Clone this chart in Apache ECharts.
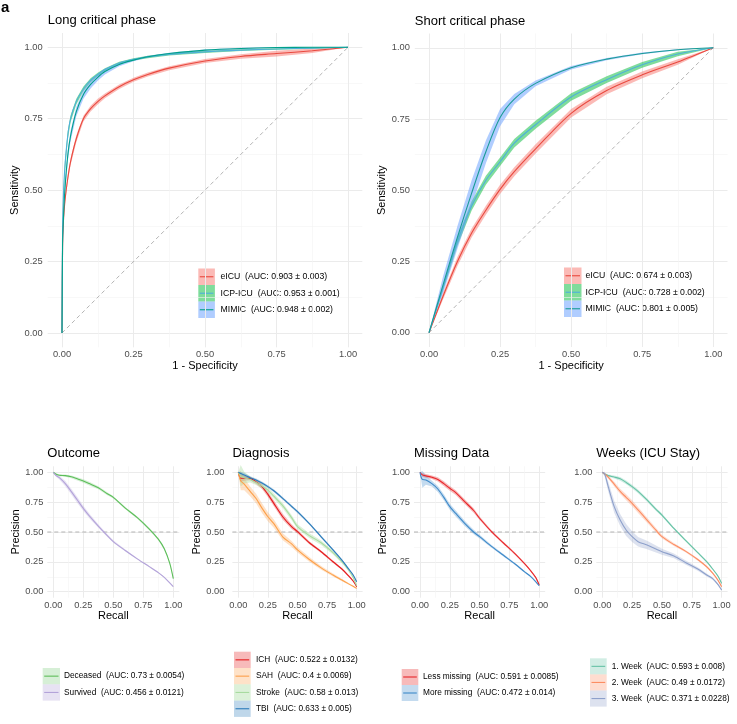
<!DOCTYPE html>
<html>
<head>
<meta charset="utf-8">
<script src="https://cdn.jsdelivr.net/npm/echarts@6/dist/echarts.min.js"></script>
<style>
  html, body { margin: 0; padding: 0; background: #fff; }
  #main { width: 737px; height: 724px; }
</style>
</head>
<body>
<div id="main"></div>
<script>
// ROC, long critical phase
var longX    = [0, 0.002, 0.005, 0.01, 0.02, 0.03, 0.05, 0.075, 0.1, 0.125, 0.15, 0.2, 0.25, 0.3, 0.375, 0.5, 0.625, 0.75, 0.875, 1];
var longEicu = [0, 0.30, 0.39, 0.46, 0.54, 0.60, 0.68, 0.75, 0.785, 0.81, 0.83, 0.862, 0.886, 0.905, 0.927, 0.952, 0.968, 0.978, 0.988, 1];
var longEicuCi = [0, 0.01, 0.012, 0.012, 0.012, 0.012, 0.012, 0.01, 0.01, 0.01, 0.008, 0.008, 0.007, 0.007, 0.007, 0.007, 0.008, 0.01, 0.008, 0];
var longIcp  = [0, 0.36, 0.48, 0.58, 0.69, 0.75, 0.81, 0.855, 0.885, 0.905, 0.922, 0.945, 0.958, 0.966, 0.975, 0.984, 0.99, 0.994, 0.997, 1];
var longIcpCi = [0, 0.02, 0.02, 0.02, 0.015, 0.012, 0.01, 0.008, 0.007, 0.006, 0.005, 0.004, 0.004, 0.004, 0.004, 0.004, 0.003, 0.003, 0.002, 0];
var longMimic = [0, 0.31, 0.40, 0.50, 0.62, 0.69, 0.775, 0.835, 0.87, 0.895, 0.915, 0.94, 0.955, 0.967, 0.978, 0.99, 0.996, 0.999, 1, 1];
var longMimicCi = [0, 0.02, 0.02, 0.02, 0.02, 0.018, 0.016, 0.015, 0.014, 0.012, 0.01, 0.006, 0.004, 0.003, 0.003, 0.002, 0.002, 0.001, 0, 0];

// ROC, short critical phase
var shortX     = [0, 0.05, 0.1, 0.15, 0.2, 0.25, 0.3, 0.375, 0.5, 0.625, 0.75, 0.875, 1];
var shortEicu  = [0, 0.13, 0.25, 0.35, 0.43, 0.503, 0.565, 0.645, 0.77, 0.85, 0.905, 0.95, 1];
var shortEicuCi = [0, 0.012, 0.016, 0.016, 0.016, 0.016, 0.016, 0.016, 0.015, 0.013, 0.012, 0.01, 0];
var shortIcp   = [0, 0.16, 0.32, 0.445, 0.535, 0.6, 0.665, 0.73, 0.827, 0.888, 0.94, 0.978, 1];
var shortIcpCi = [0, 0.01, 0.015, 0.016, 0.016, 0.015, 0.015, 0.014, 0.013, 0.012, 0.01, 0.008, 0];
var shortMimic = [0, 0.17, 0.335, 0.49, 0.635, 0.755, 0.82, 0.875, 0.93, 0.96, 0.98, 0.993, 1];
var shortMimicCi = [0, 0.03, 0.04, 0.045, 0.04, 0.03, 0.018, 0.01, 0.006, 0.004, 0.003, 0.002, 0];

// precision-recall panels
var prX = [0, 0.02, 0.05, 0.1, 0.15, 0.2, 0.25, 0.3, 0.375, 0.45, 0.5, 0.6, 0.7, 0.8, 0.875, 0.925, 0.97, 1];
var deceased   = [1.0, 0.985, 0.975, 0.972, 0.962, 0.945, 0.927, 0.905, 0.87, 0.82, 0.79, 0.70, 0.62, 0.525, 0.44, 0.36, 0.24, 0.11];
var deceasedCi = [0, 0.006, 0.008, 0.01, 0.012, 0.014, 0.015, 0.015, 0.013, 0.012, 0.01, 0.01, 0.01, 0.01, 0.01, 0.01, 0.01, 0.008];
var survived   = [1.0, 0.975, 0.955, 0.905, 0.838, 0.768, 0.698, 0.635, 0.55, 0.47, 0.42, 0.345, 0.275, 0.21, 0.16, 0.12, 0.075, 0.042];
var survivedCi = [0, 0.01, 0.015, 0.022, 0.025, 0.025, 0.022, 0.02, 0.015, 0.012, 0.01, 0.008, 0.006, 0.005, 0.005, 0.004, 0.004, 0.003];

var tbi     = [1.0, 0.99, 0.978, 0.955, 0.935, 0.91, 0.88, 0.845, 0.782, 0.715, 0.67, 0.57, 0.46, 0.35, 0.265, 0.2, 0.14, 0.084];
var tbiCi   = [0, 0.015, 0.015, 0.012, 0.012, 0.012, 0.012, 0.012, 0.012, 0.012, 0.012, 0.01, 0.01, 0.01, 0.008, 0.008, 0.008, 0.006];
var ich     = [1.0, 0.95, 0.95, 0.948, 0.92, 0.88, 0.815, 0.74, 0.628, 0.545, 0.503, 0.41, 0.335, 0.251, 0.19, 0.14, 0.09, 0.042];
var ichCi   = [0, 0.03, 0.02, 0.015, 0.018, 0.02, 0.022, 0.025, 0.025, 0.02, 0.015, 0.012, 0.01, 0.01, 0.008, 0.008, 0.006, 0.005];
var stroke  = [1.0, 0.97, 0.955, 0.94, 0.915, 0.885, 0.85, 0.80, 0.72, 0.62, 0.545, 0.47, 0.41, 0.327, 0.251, 0.19, 0.12, 0.05];
var strokeCi = [0, 0.09, 0.05, 0.025, 0.022, 0.022, 0.022, 0.022, 0.022, 0.022, 0.02, 0.02, 0.018, 0.015, 0.012, 0.01, 0.008, 0.006];
var sah     = [1.0, 0.93, 0.9, 0.84, 0.78, 0.70, 0.628, 0.57, 0.46, 0.40, 0.35, 0.27, 0.20, 0.14, 0.098, 0.07, 0.045, 0.028];
var sahCi   = [0, 0.08, 0.05, 0.04, 0.04, 0.04, 0.038, 0.035, 0.03, 0.025, 0.022, 0.02, 0.015, 0.012, 0.01, 0.008, 0.006, 0.005];

var lessMissing   = [1.0, 0.978, 0.97, 0.958, 0.94, 0.905, 0.866, 0.83, 0.754, 0.68, 0.615, 0.503, 0.408, 0.315, 0.237, 0.18, 0.12, 0.056];
var lessMissingCi = [0, 0.015, 0.015, 0.015, 0.018, 0.02, 0.02, 0.02, 0.02, 0.018, 0.015, 0.012, 0.01, 0.01, 0.008, 0.008, 0.006, 0.005];
var moreMissing   = [1.0, 0.94, 0.936, 0.905, 0.86, 0.79, 0.712, 0.655, 0.573, 0.5, 0.461, 0.38, 0.305, 0.23, 0.168, 0.13, 0.085, 0.05];
var moreMissingCi = [0, 0.07, 0.04, 0.025, 0.025, 0.025, 0.025, 0.025, 0.022, 0.018, 0.015, 0.012, 0.01, 0.008, 0.007, 0.006, 0.005, 0.004];

var week1   = [1.0, 0.985, 0.972, 0.96, 0.945, 0.915, 0.88, 0.84, 0.768, 0.69, 0.642, 0.53, 0.428, 0.327, 0.251, 0.19, 0.13, 0.07];
var week1Ci = [0, 0.008, 0.01, 0.012, 0.015, 0.016, 0.016, 0.016, 0.015, 0.014, 0.012, 0.01, 0.01, 0.008, 0.008, 0.007, 0.006, 0.005];
var week2   = [1.0, 0.985, 0.96, 0.90, 0.84, 0.79, 0.74, 0.685, 0.60, 0.515, 0.461, 0.395, 0.338, 0.27, 0.209, 0.155, 0.095, 0.042];
var week2Ci = [0, 0.01, 0.015, 0.02, 0.022, 0.025, 0.025, 0.025, 0.022, 0.018, 0.015, 0.012, 0.01, 0.01, 0.008, 0.007, 0.006, 0.005];
var week3   = [1.0, 0.985, 0.88, 0.712, 0.60, 0.517, 0.461, 0.419, 0.391, 0.358, 0.335, 0.30, 0.243, 0.19, 0.14, 0.11, 0.06, 0.014];
var week3Ci = [0, 0.02, 0.04, 0.05, 0.05, 0.05, 0.045, 0.04, 0.035, 0.03, 0.025, 0.02, 0.018, 0.015, 0.012, 0.01, 0.008, 0.006];

var majorTicks = [0, 0.25, 0.5, 0.75, 1];
var minorTicks = [0.125, 0.375, 0.625, 0.875];

var FONT = 'Liberation Sans, Arial, sans-serif';

var panels = [
  { title: 'Long critical phase', box: [47.7, 33, 314.6, 314.3], xName: '1 - Specificity', yName: 'Sensitivity',
    xGap: 13, yGap: 22, yMargin: 5, ref: 'diag', x: longX,
    curves: [
      { name: 'eICU', y: longEicu, ci: longEicuCi, line: '#E9493F', fill: 'rgba(248,118,109,0.5)', auc: '0.903 ± 0.003' },
      { name: 'ICP-ICU', y: longIcp, ci: longIcpCi, line: '#4FB0DA', fill: 'rgba(0,186,56,0.5)', auc: '0.953 ± 0.001' },
      { name: 'MIMIC', y: longMimic, ci: longMimicCi, line: '#00A08A', fill: 'rgba(97,156,255,0.5)', auc: '0.948 ± 0.002' }
    ],
    legend: [198.3, 268.5, 16.6, 16.5, 220.5, 8.7] },
  { title: 'Short critical phase', box: [414.8, 33.5, 312.7, 313.5], xName: '1 - Specificity', yName: 'Sensitivity',
    xGap: 13, yGap: 24, yMargin: 5, ref: 'diag', x: shortX,
    curves: [
      { name: 'eICU', y: shortEicu, ci: shortEicuCi, line: '#E9493F', fill: 'rgba(248,118,109,0.5)', auc: '0.674 ± 0.003' },
      { name: 'ICP-ICU', y: shortIcp, ci: shortIcpCi, line: '#4FB0DA', fill: 'rgba(0,186,56,0.5)', auc: '0.728 ± 0.002' },
      { name: 'MIMIC', y: shortMimic, ci: shortMimicCi, line: '#1A9C96', fill: 'rgba(97,156,255,0.5)', auc: '0.801 ± 0.005' }
    ],
    legend: [564, 267.5, 17.5, 16.5, 585.5, 8.7] },
  { title: 'Outcome', box: [47.3, 466.3, 132, 131.4], xName: 'Recall', yName: 'Precision',
    xGap: 12, yGap: 23, yMargin: 4, ref: 'half', x: prX,
    curves: [
      { name: 'Deceased', y: deceased, ci: deceasedCi, line: '#5DBE5A', fill: 'rgba(93,190,90,0.25)', auc: '0.73 ± 0.0054' },
      { name: 'Survived', y: survived, ci: survivedCi, line: '#B3A3D9', fill: 'rgba(175,159,214,0.3)', auc: '0.456 ± 0.0121' }
    ],
    legend: [42.7, 668, 17.3, 16.3, 64, 8.3] },
  { title: 'Diagnosis', box: [232.4, 466.3, 130.2, 131.4], xName: 'Recall', yName: 'Precision',
    xGap: 12, yGap: 25, yMargin: 8, ref: 'half', x: prX,
    curves: [
      { name: 'ICH', y: ich, ci: ichCi, line: '#E41A1C', fill: 'rgba(228,26,28,0.3)', auc: '0.522 ± 0.0132' },
      { name: 'SAH', y: sah, ci: sahCi, line: '#FDA04A', fill: 'rgba(253,160,74,0.3)', auc: '0.4 ± 0.0069' },
      { name: 'Stroke', y: stroke, ci: strokeCi, line: '#A8DBA0', fill: 'rgba(168,219,160,0.4)', auc: '0.58 ± 0.013' },
      { name: 'TBI', y: tbi, ci: tbiCi, line: '#2B7BBA', fill: 'rgba(43,123,186,0.3)', auc: '0.633 ± 0.005' }
    ],
    legend: [234, 651.7, 16.7, 16.3, 256, 8.3] },
  { title: 'Missing Data', box: [414, 466.3, 131.2, 131.4], xName: 'Recall', yName: 'Precision',
    xGap: 12, yGap: 23.5, yMargin: 4, ref: 'half', x: prX,
    curves: [
      { name: 'Less missing', y: lessMissing, ci: lessMissingCi, line: '#E8262A', fill: 'rgba(228,26,28,0.3)', auc: '0.591 ± 0.0085' },
      { name: 'More missing', y: moreMissing, ci: moreMissingCi, line: '#3D89C9', fill: 'rgba(61,137,201,0.3)', auc: '0.472 ± 0.014' }
    ],
    legend: [401.7, 669, 16.6, 16, 423, 8.3] },
  { title: 'Weeks (ICU Stay)', box: [596.3, 466.3, 131.3, 131.4], xName: 'Recall', yName: 'Precision',
    xGap: 12, yGap: 23, yMargin: 4, ref: 'half', x: prX,
    curves: [
      { name: '1. Week', y: week1, ci: week1Ci, line: '#66C2A5', fill: 'rgba(102,194,165,0.3)', auc: '0.593 ± 0.008' },
      { name: '2. Week', y: week2, ci: week2Ci, line: '#FC8D62', fill: 'rgba(252,141,98,0.3)', auc: '0.49 ± 0.0172' },
      { name: '3. Week', y: week3, ci: week3Ci, line: '#8DA0CB', fill: 'rgba(141,160,203,0.3)', auc: '0.371 ± 0.0228' }
    ],
    legend: [590, 658.3, 16.7, 16.1, 611.7, 8.3] }
];

function fmt(v) { return v.toFixed(2); }

function axisPair(kind, p, idx) {
  var major = {
    type: 'value', gridIndex: idx, min: -0.05, max: 1.05,
    name: kind === 'x' ? p.xName : p.yName, nameLocation: 'middle',
    nameGap: kind === 'x' ? p.xGap : p.yGap,
    nameTextStyle: { fontSize: 11, color: '#000', fontFamily: FONT },
    axisLine: { show: false }, axisTick: { show: false, customValues: majorTicks },
    axisLabel: { customValues: majorTicks, formatter: fmt, fontSize: 9.3, color: '#4D4D4D', fontFamily: FONT,
      margin: kind === 'x' ? 3 : p.yMargin },
    splitLine: { show: true, lineStyle: { color: '#EBEBEB', width: 1 } }
  };
  var minor = {
    type: 'value', gridIndex: idx, min: -0.05, max: 1.05,
    axisLine: { show: false }, axisTick: { show: false, customValues: minorTicks },
    axisLabel: { show: false },
    splitLine: { show: true, lineStyle: { color: '#F3F3F3', width: 0.6 } }
  };
  return [major, minor];
}

function bandSeries(xs, ys, ci, fill, ax) {
  return {
    type: 'custom', xAxisIndex: ax, yAxisIndex: ax, silent: true, z: 2,
    data: [[0.5, 0.5]],
    renderItem: function (params, api) {
      var pts = [];
      for (var i = 0; i < xs.length; i++) pts.push(api.coord([xs[i], ys[i] + ci[i]]));
      for (var j = xs.length - 1; j >= 0; j--) pts.push(api.coord([xs[j], Math.max(0, ys[j] - ci[j])]));
      return { type: 'polygon', shape: { points: pts }, style: { fill: fill } };
    }
  };
}

var grids = [], xAxes = [], yAxes = [], series = [], titles = [], graphics = [];

graphics.push({ type: 'text', left: 1, top: 0, style: { text: 'a', fontSize: 15, fontWeight: 'bold', fill: '#000', fontFamily: FONT } });

panels.forEach(function (p, k) {
  grids.push({ left: p.box[0], top: p.box[1], width: p.box[2], height: p.box[3] });
  var xa = axisPair('x', p, k), ya = axisPair('y', p, k);
  xAxes.push(xa[0], xa[1]);
  yAxes.push(ya[0], ya[1]);
  var ax = 2 * k;
  titles.push({ text: p.title, left: p.box[0], top: p.box[1] - 19, padding: 0,
    textStyle: { fontSize: 13, fontWeight: 'normal', color: '#000', fontFamily: FONT } });

  var refData = p.ref === 'diag' ? [[0, 0], [1, 1]] : [[-0.05, 0.5], [1.05, 0.5]];
  series.push({ type: 'line', xAxisIndex: ax, yAxisIndex: ax, data: refData, symbol: 'none', silent: true, z: 1,
    lineStyle: { color: '#B5B5B5', width: 1, type: [4, 3] } });

  p.curves.forEach(function (c) {
    series.push(bandSeries(p.x, c.y, c.ci, c.fill, ax));
  });
  p.curves.forEach(function (c) {
    series.push({ type: 'line', name: c.name, xAxisIndex: ax, yAxisIndex: ax, z: 3, silent: true,
      data: p.x.map(function (v, i) { return [v, c.y[i]]; }),
      symbol: 'none', smooth: 0.3, lineStyle: { color: c.line, width: 1.1 } });
  });

  // ggplot-style legend keys: filled band swatch with the line across it
  var L = p.legend;
  p.curves.forEach(function (c, i) {
    var y0 = L[1] + i * L[3];
    graphics.push({ type: 'rect', shape: { x: L[0], y: y0, width: L[2], height: L[3] }, style: { fill: c.fill } });
    graphics.push({ type: 'line', shape: { x1: L[0] + 1.5, y1: y0 + L[3] / 2, x2: L[0] + L[2] - 1.5, y2: y0 + L[3] / 2 },
      style: { stroke: c.line, lineWidth: 1.1 } });
    graphics.push({ type: 'text', x: L[4], y: y0 + L[3] / 2,
      style: { text: c.name + '  (AUC: ' + c.auc + ')', fontSize: L[5], fill: '#000', fontFamily: FONT, verticalAlign: 'middle', align: 'left' } });
  });
});

var chart = echarts.init(document.getElementById('main'), null, { renderer: 'canvas' });
chart.setOption({
  animation: false,
  backgroundColor: '#fff',
  title: titles,
  grid: grids,
  xAxis: xAxes,
  yAxis: yAxes,
  series: series,
  graphic: graphics
});
</script>
</body>
</html>
